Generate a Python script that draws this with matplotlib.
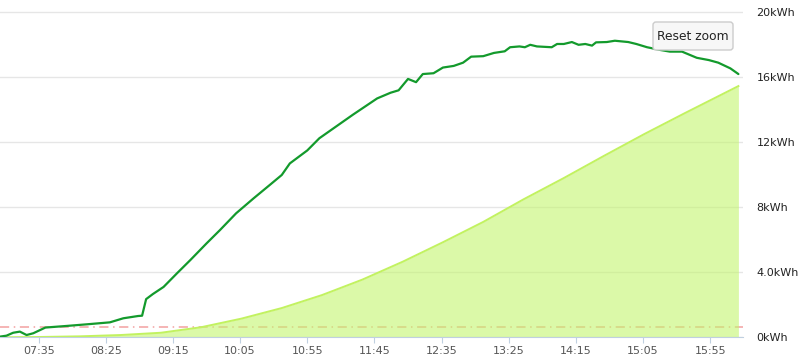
import matplotlib.pyplot as plt
from matplotlib.patches import FancyBboxPatch
from matplotlib.transforms import IdentityTransform

# Data
power_times = ["07:06", "07:11", "07:16", "07:21", "07:26", "07:31", "07:40", "07:56",
               "08:11", "08:28", "08:38", "08:49", "08:52", "08:55", "09:00", "09:08",
               "09:18", "09:28", "09:40", "09:50", "10:02", "10:15", "10:27", "10:36",
               "10:42", "10:55", "11:04", "11:29", "11:47", "11:57", "12:03", "12:10",
               "12:16", "12:21", "12:29", "12:36", "12:44", "12:51", "12:57", "13:06",
               "13:14", "13:22", "13:26", "13:33", "13:37", "13:41", "13:46", "13:57",
               "14:01", "14:06", "14:12", "14:17", "14:22", "14:27", "14:30", "14:38",
               "14:44", "14:54", "15:00", "15:08", "15:18", "15:25", "15:34", "15:45",
               "15:54", "16:01", "16:10", "16:16"]
power_values = [0.04, 0.10, 0.28, 0.35, 0.14, 0.25, 0.60, 0.70,
                0.80, 0.92, 1.17, 1.31, 1.33, 2.35, 2.66, 3.10,
                3.94, 4.76, 5.78, 6.60, 7.63, 8.55, 9.37, 9.99,
                10.70, 11.50, 12.25, 13.70, 14.70, 15.05, 15.20, 15.90,
                15.70, 16.20, 16.25, 16.60, 16.70, 16.90, 17.27, 17.30,
                17.50, 17.60, 17.85, 17.90, 17.85, 18.00, 17.90, 17.85,
                18.05, 18.05, 18.17, 18.00, 18.05, 17.95, 18.15, 18.17,
                18.25, 18.17, 18.05, 17.85, 17.68, 17.58, 17.58, 17.20,
                17.06, 16.90, 16.55, 16.20]

energy_times = ["07:06", "07:36", "08:06", "08:36", "09:06", "09:36", "10:06", "10:36",
                "11:06", "11:36", "12:06", "12:36", "13:06", "13:36", "14:06", "14:36",
                "15:06", "15:36", "16:16"]
energy_values = [0.00, 0.02, 0.06, 0.14, 0.28, 0.62, 1.15, 1.80,
                 2.60, 3.55, 4.65, 5.85, 7.10, 8.49, 9.80, 11.17,
                 12.51, 13.79, 15.46]

threshold = 0.65

tick_labels = ["07:35", "08:25", "09:15", "10:05", "10:55", "11:45",
               "12:35", "13:25", "14:15", "15:05", "15:55"]
y_ticks = [0, 4, 8, 12, 16, 20]
y_labels = ["0kWh", "4.0kWh", "8kWh", "12kWh", "16kWh", "20kWh"]


def to_min(s):
    h, m = s.split(":")
    return int(h) * 60 + int(m)


px = [to_min(t) for t in power_times]
ex = [to_min(t) for t in energy_times]
tx = [to_min(t) for t in tick_labels]

fig = plt.figure(figsize=(8, 3.62), dpi=100)
ax = fig.add_axes([0, 24.7 / 362, 742.7 / 800, 337.3 / 362])

ax.axhline(threshold, color='#f2a0a0', lw=1.1, dashes=(6, 3, 1, 3), zorder=1)
ax.fill_between(ex, energy_values, 0, color='#c4f56e', alpha=0.6, lw=0, zorder=2)
ax.plot(ex, energy_values, color='#c2f260', lw=1.4, zorder=3)
ax.plot(px, power_values, color='#139a2c', lw=1.6, zorder=4,
        solid_joinstyle='round', solid_capstyle='round')

ax.set_xlim(426.2, 979.2)
ax.set_ylim(0, 337.3 / 16.25)

ax.set_xticks(tx)
ax.set_xticklabels(tick_labels)
ax.set_yticks(y_ticks)
ax.set_yticklabels(y_labels)
ax.yaxis.tick_right()

ax.grid(axis='y', color='#e6e6e6', lw=1)
ax.set_axisbelow(True)
for s in ['top', 'left', 'right']:
    ax.spines[s].set_visible(False)
ax.spines['bottom'].set_color('#c0d0e0')
ax.tick_params(axis='x', colors='#c0d0e0', length=4, labelcolor='#555555',
               labelsize=8, pad=2)
ax.tick_params(axis='y', length=0, pad=10, labelcolor='#222222', labelsize=8)

# Reset zoom button
btn = FancyBboxPatch((653, 362 - 50), 80, 28,
                     boxstyle='round,pad=0,rounding_size=3',
                     transform=IdentityTransform(), facecolor='#f7f7f7',
                     edgecolor='#cccccc', lw=1, zorder=10)
fig.patches.append(btn)
fig.text(693 / 800, 1 - 36 / 362, "Reset zoom", ha='center', va='center',
         fontsize=8.8, color='#222222', zorder=11)

plt.savefig('out.png', dpi=100)
